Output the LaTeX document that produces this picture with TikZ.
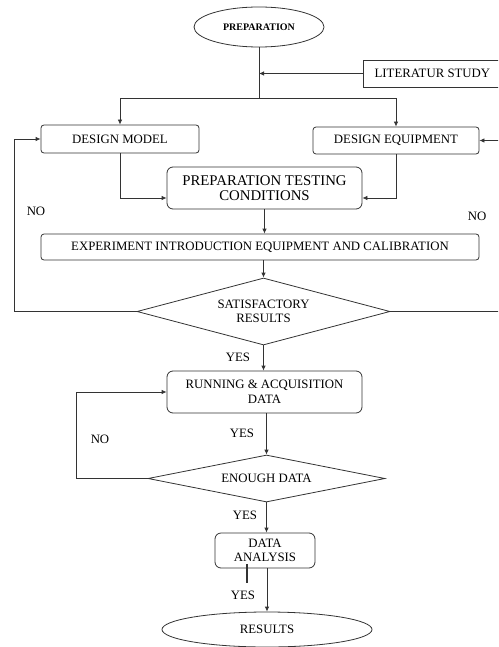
\documentclass[tikz,border=0pt]{standalone}
\usepackage{fontspec}
\setmainfont{Liberation Serif}
\usetikzlibrary{positioning, arrows.meta, calc, shapes.geometric}
\tikzset{
  stepbox/.style={draw=black!80, line width=0.8pt, rounded corners=3pt, inner sep=0pt, align=center},
  bigbox/.style={stepbox, rounded corners=6pt, font=\fontsize{14.8}{15}\selectfont},
  decide/.style={draw=black!80, line width=0.8pt, diamond, inner sep=0pt, align=center},
  term/.style={draw=black!80, line width=0.8pt, ellipse, inner sep=0pt, align=center},
  flow/.style={draw=black!80, line width=0.8pt, -{Latex[length=5pt,width=4.5pt]}},
  link/.style={draw=black!80, line width=0.8pt},
  answer/.style={inner sep=0pt}
}

\begin{document}
\begin{tikzpicture}[x=1pt, y=-1pt, font=\fontsize{12.8}{14.5}\selectfont]
  \useasboundingbox (0,0) rectangle (498,647);
  \clip (0,0) rectangle (498,647);

  \node[term, minimum width=130pt, minimum height=40pt, font=\bfseries\fontsize{10}{12}\selectfont]
    (prep) at (259,27) {PREPARATION};
  \node[stepbox, rounded corners=0pt, minimum width=138pt, minimum height=27pt, anchor=west]
    (lit) at (363,73.5) {LITERATUR STUDY};
  \node[stepbox, minimum width=158pt, minimum height=28pt] (dmodel) at (120,139) {DESIGN MODEL};
  \node[stepbox, minimum width=166pt, minimum height=27pt] (dequip) at (396,140.5) {DESIGN EQUIPMENT};
  \node[bigbox, minimum width=195pt, minimum height=42pt] (ptest) at (264.5,188)
    {PREPARATION TESTING\\CONDITIONS};
  \node[stepbox, minimum width=438pt, minimum height=26pt] (exper) at (260,247)
    {EXPERIMENT INTRODUCTION EQUIPMENT AND CALIBRATION};
  \node[decide, aspect=3.78, minimum width=253pt, minimum height=67pt] (sat) at (263.5,311.5)
    {SATISFACTORY\\RESULTS};
  \node[stepbox, rounded corners=6pt, minimum width=195pt, minimum height=42pt] (run) at (264.5,392)
    {RUNNING \& ACQUISITION\\DATA};
  \node[decide, aspect=5.04, minimum width=237pt, minimum height=47pt] (enough) at (266.5,478.5) {ENOUGH DATA};
  \node[stepbox, rounded corners=6pt, minimum width=100pt, minimum height=35pt] (anal) at (265,550.5)
    {DATA\\ANALYSIS};
  \node[term, minimum width=210pt, minimum height=35pt] (res) at (267,629.5) {RESULTS};

  % answers written beside the branches
  \node[answer] (noA) at (36,211) {NO};
  \node[answer] (noB) at (477,216) {NO};
  \node[answer] (yesA) at (238,357) {YES};
  \node[answer] (yesB) at (242,433) {YES};
  \node[answer] (noC) at (100,439) {NO};
  \node[answer] (yesC) at (245,515) {YES};
  \node[answer] (yesD) at (243,595) {YES};

  \coordinate (split) at (259,98);
  \coordinate (lloop) at (14,0);
  \coordinate (rloop) at (512,0);
  \coordinate (dloop) at (76,0);

  \draw[link] (prep.south) -- (split);
  \draw[flow] (lit.west) -- (lit.west -| prep.south);
  \draw[flow] (split) -| (dmodel.north);
  \draw[flow] (split) -| (dequip.north);
  \draw[flow] (dmodel.south) |- ([yshift=-10pt]ptest.west);
  \draw[flow] (dequip.south) |- ([yshift=-10pt]ptest.east);
  \draw[flow] (ptest.south) -- (ptest.south |- exper.north);
  \draw[flow] (sat.north |- exper.south) -- (sat.north);
  \draw[flow] (sat.west) -- (sat.west -| lloop) |- (dmodel.west);
  \draw[flow] (sat.east) -- (sat.east -| rloop) |- (dequip.east);
  \draw[flow] (sat.south) -- (sat.south |- run.north);
  \draw[flow] (enough.north |- run.south) -- (enough.north);
  \draw[flow] (enough.west) -- (enough.west -| dloop) |- (run.west);
  \draw[flow] (enough.south) -- (enough.south |- anal.north);
  \draw[flow] (res.north |- anal.south) -- (res.north);
  \draw[link, line width=1.4pt] (247,564) -- (247,583);
\end{tikzpicture}
\end{document}
